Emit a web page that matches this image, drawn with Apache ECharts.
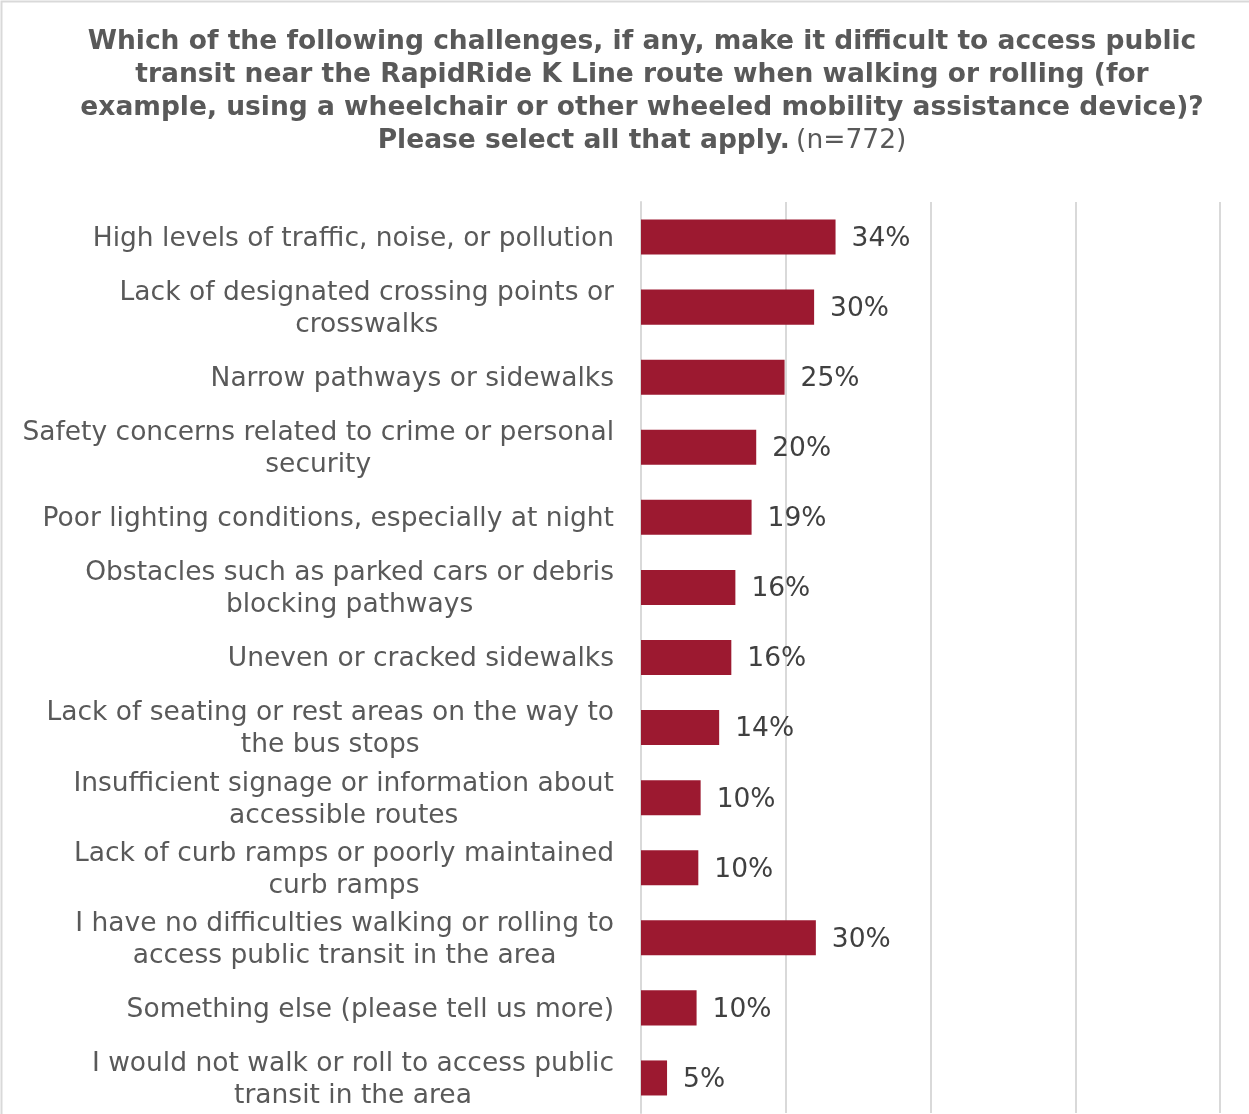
<!DOCTYPE html>
<html>
<head>
<meta charset="utf-8">
<script src="https://cdn.jsdelivr.net/npm/echarts@6/dist/echarts.min.js"></script>
<style>
  html, body { margin: 0; padding: 0; background: #fff; }
  #chart { width: 1249px; height: 1114px; }
</style>
</head>
<body>
<div id="chart"></div>
<script>
// categories, top to bottom
var categories = [
  'High levels of traffic, noise, or pollution',
  'Lack of designated crossing points or\ncrosswalks',
  'Narrow pathways or sidewalks',
  'Safety concerns related to crime or personal\nsecurity',
  'Poor lighting conditions, especially at night',
  'Obstacles such as parked cars or debris\nblocking pathways',
  'Uneven or cracked sidewalks',
  'Lack of seating or rest areas on the way to\nthe bus stops',
  'Insufficient signage or information about\naccessible routes',
  'Lack of curb ramps or poorly maintained\ncurb ramps',
  'I have no difficulties walking or rolling to\naccess public transit in the area',
  'Something else (please tell us more)',
  'I would not walk or roll to access public\ntransit in the area'
];
// share of respondents, percent
var values = [33.6, 29.9, 24.8, 19.9, 19.1, 16.3, 15.6, 13.5, 10.3, 9.9, 30.2, 9.6, 4.5];
var xTicks = [0, 25, 50, 75, 100];

var FONT = 'Verdana, "DejaVu Sans"';
var FS = 26.5;

var chart = echarts.init(document.getElementById('chart'));

chart.setOption({
  animation: false,
  textStyle: { fontFamily: FONT },
  title: {
    text: '{b|Which of the following challenges, if any, make it difficult to access public}\n' +
          '{b|transit near the RapidRide K Line route when walking or rolling (for}\n' +
          '{b|example, using a wheelchair or other wheeled mobility assistance device)?}\n' +
          '{b|Please select all that apply.} {n|(n=772)}',
    left: 637,
    top: 21,
    textAlign: 'center',
    textStyle: {
      fontFamily: FONT,
      rich: {
        b: { fontFamily: FONT, fontWeight: 'bold', fontSize: FS, color: '#595959', lineHeight: 33, align: 'center' },
        n: { fontFamily: FONT, fontWeight: 'normal', fontSize: FS, color: '#595959', lineHeight: 33, align: 'center' }
      }
    }
  },
  graphic: [{
    type: 'rect',
    shape: { x: 1.5, y: 1.5, width: 1400, height: 1400 },
    style: { fill: 'none', stroke: '#d9d9d9', lineWidth: 2 },
    silent: true
  }],
  grid: {
    left: 641,
    right: 29,
    top: 202,
    bottom: 1
  },
  xAxis: {
    type: 'value',
    min: xTicks[0],
    max: xTicks[xTicks.length - 1],
    interval: 25,
    axisLabel: { show: false },
    axisLine: { show: false },
    axisTick: { show: false },
    splitLine: { show: true, lineStyle: { color: '#d9d9d9', width: 2 } }
  },
  yAxis: {
    type: 'category',
    inverse: true,
    data: categories,
    axisLine: { show: true, lineStyle: { color: '#d9d9d9', width: 2 } },
    axisTick: { show: false },
    axisLabel: {
      margin: 27,
      fontFamily: FONT,
      fontSize: FS,
      lineHeight: 32,
      color: '#595959',
      align: 'right',
      formatter: function (v) {
        return v.split('\n').map(function (s) { return '{c|' + s + '}'; }).join('\n');
      },
      rich: {
        c: { fontFamily: FONT, fontSize: FS, lineHeight: 32, color: '#595959', align: 'center', padding: [4, 0, 0, 0] }
      }
    }
  },
  series: [{
    type: 'bar',
    data: values,
    barWidth: '50%',
    itemStyle: { color: '#9c1930' },
    label: {
      show: true,
      position: 'right',
      distance: 16,
      offset: [0, 2],
      fontFamily: FONT,
      fontSize: FS,
      color: '#404040',
      formatter: function (p) { return Math.round(p.value) + '%'; }
    }
  }]
});
</script>
</body>
</html>
